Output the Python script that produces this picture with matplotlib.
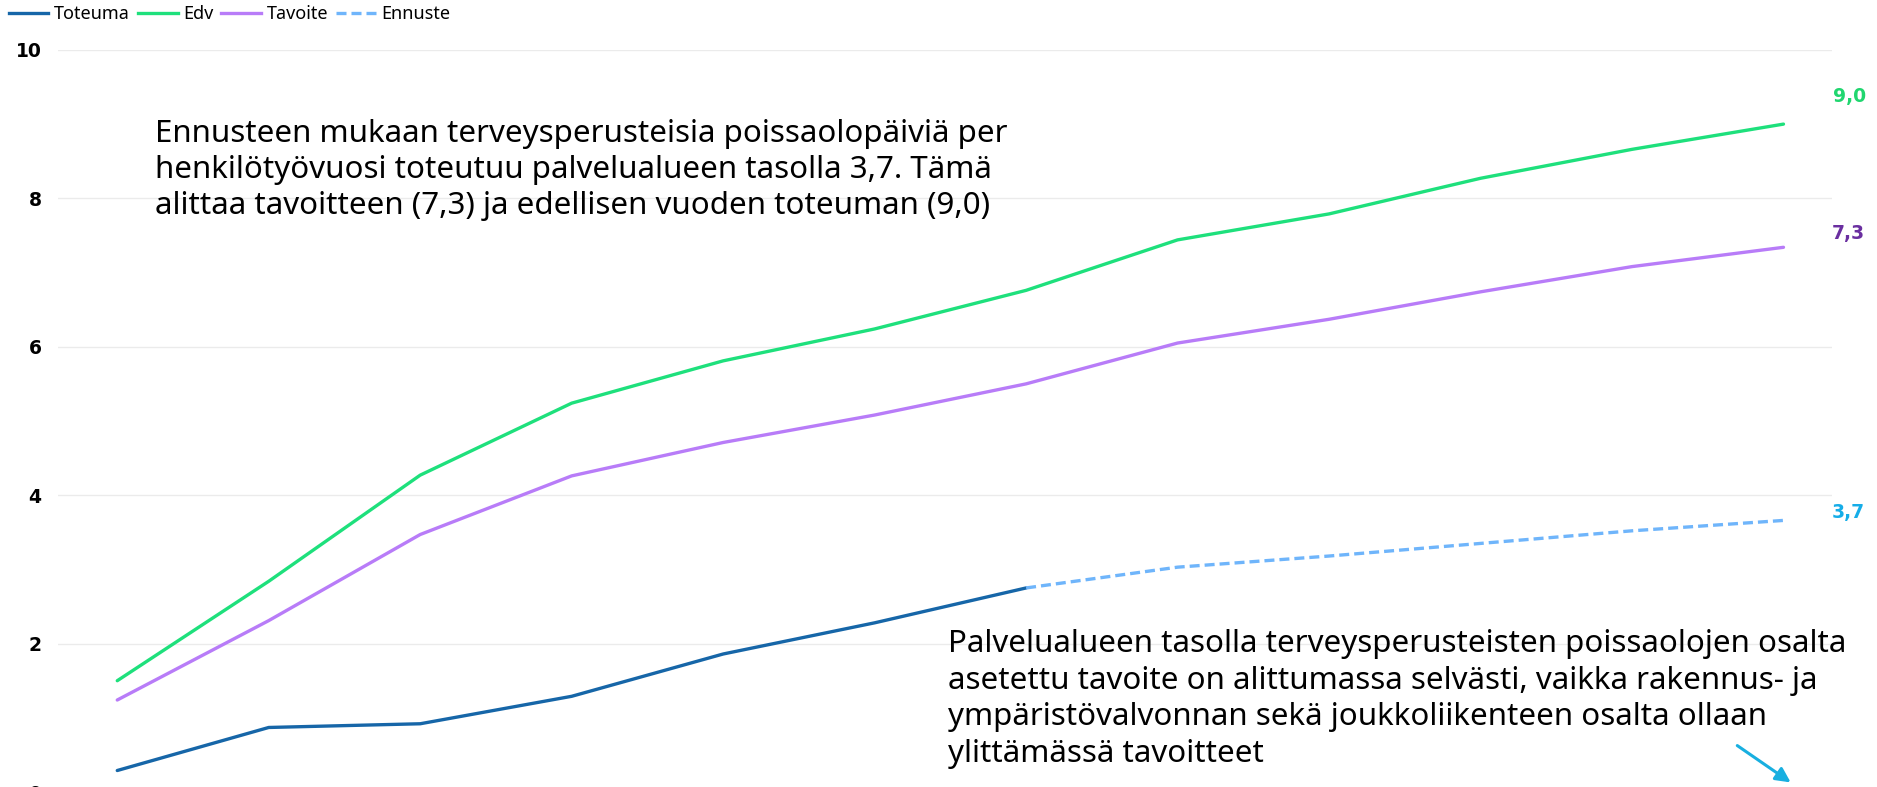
import matplotlib.pyplot as plt
from matplotlib.lines import Line2D

# data (12 periods)
months = list(range(12))
toteuma = [0.29, 0.87, 0.92, 1.29, 1.86, 2.28, 2.75]
ennuste = [2.75, 3.03, 3.18, 3.35, 3.52, 3.66]
edv = [1.50, 2.84, 4.27, 5.24, 5.81, 6.24, 6.76, 7.44, 7.79, 8.27, 8.66, 9.00]
tavoite = [1.24, 2.31, 3.47, 4.26, 4.71, 5.08, 5.50, 6.05, 6.37, 6.74, 7.08, 7.34]
end_labels = ["9,0", "7,3", "3,7"]
yticks = [0, 2, 4, 6, 8, 10]

c_tot = "#1666a8"
c_edv = "#1ee07c"
c_tav = "#b87cf8"
c_enn = "#6fb5fb"

plt.rcParams['font.family'] = ['Noto Sans', 'DejaVu Sans']

fig = plt.figure(figsize=(18.77, 7.87), dpi=100)
ax = fig.add_axes([0.031, -0.0064, 0.945, 0.943])

ax.plot(months[:len(toteuma)], toteuma, color=c_tot, lw=2.4, solid_capstyle='round')
ax.plot(months[len(toteuma) - 1:], ennuste, color=c_enn, lw=2.4, ls=(0, (3, 1.5)))
ax.plot(months, edv, color=c_edv, lw=2.4, solid_capstyle='round')
ax.plot(months, tavoite, color=c_tav, lw=2.4, solid_capstyle='round')

ax.set_xlim(-0.39, 11.32)
ax.set_ylim(0, 10)
ax.set_yticks(yticks)
ax.set_yticklabels([str(t) for t in yticks], fontsize=13.5, fontweight='bold', family='DejaVu Sans')
ax.set_xticks([])
ax.grid(axis='y', color='#ebebeb', lw=1)
ax.tick_params(axis='y', length=0, pad=12)
for s in ax.spines.values():
    s.set_visible(False)

# end value labels
lab = dict(fontsize=13.5, fontweight='bold', va='center', family='DejaVu Sans')
ax.text(11.33, edv[-1] + 0.37, end_labels[0], color="#20d66f", **lab)
ax.text(11.32, tavoite[-1] + 0.18, end_labels[1], color="#6a2fa0", **lab)
ax.text(11.32, ennuste[-1] + 0.11, end_labels[2], color="#16ade8", **lab)

fig.text(0.0825, 0.784,
         "Ennusteen mukaan terveysperusteisia poissaolopäiviä per\n"
         "henkilötyövuosi toteutuu palvelualueen tasolla 3,7. Tämä\n"
         "alittaa tavoitteen (7,3) ja edellisen vuoden toteuman (9,0)",
         fontsize=22.5, va='center', ha='left', linespacing=1.28)

fig.text(0.505, 0.112,
         "Palvelualueen tasolla terveysperusteisten poissaolojen osalta\n"
         "asetettu tavoite on alittumassa selvästi, vaikka rakennus- ja\n"
         "ympäristövalvonnan sekä joukkoliikenteen osalta ollaan\n"
         "ylittämässä tavoitteet",
         fontsize=22.5, va='center', ha='left', linespacing=1.28)

ax.annotate("", xy=(1793, 3), xytext=(1735, 43), xycoords='figure pixels',
            textcoords='figure pixels',
            arrowprops=dict(arrowstyle='-|>', color='#18afe0', lw=2.2, mutation_scale=22))

handles = [Line2D([], [], color=c_tot, lw=2.4),
           Line2D([], [], color=c_edv, lw=2.4),
           Line2D([], [], color=c_tav, lw=2.4),
           Line2D([], [], color=c_enn, lw=2.4, ls=(0, (3, 1.5)))]
fig.legend(handles, ["Toteuma", "Edv", "Tavoite", "Ennuste"], loc='upper left',
           bbox_to_anchor=(-0.004, 1.014), ncol=4, frameon=False, fontsize=13,
           handlelength=2.2, handletextpad=0.3, columnspacing=0.45)

fig.savefig("out.png", dpi=100)
